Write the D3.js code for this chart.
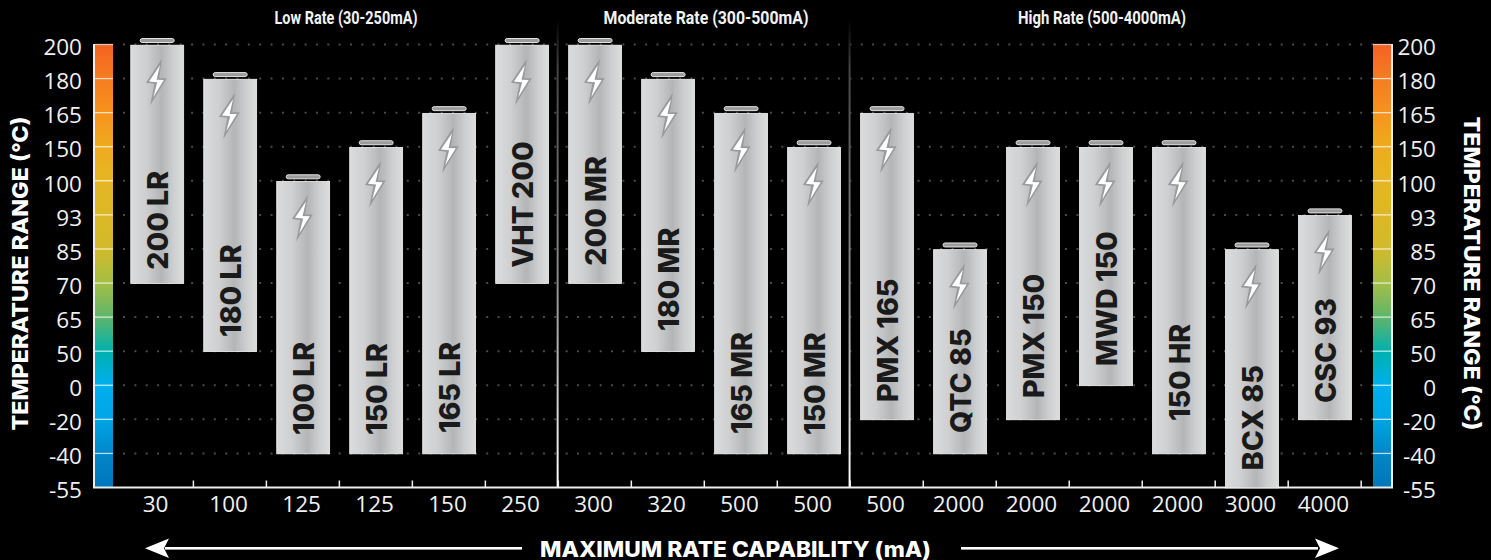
<!DOCTYPE html>
<html><head><meta charset="utf-8">
<script src="https://cdnjs.cloudflare.com/ajax/libs/d3/7.8.5/d3.min.js"></script>
<style>html,body{margin:0;padding:0;background:#000;overflow:hidden}svg{display:block}</style>
</head><body><svg id="c" width="1491" height="560"></svg>
<script>
const temps = ["200","180","165","150","100","93","85","70","65","50","0","-20","-40","-55"];
const names = ["200 LR","180 LR","100 LR","150 LR","165 LR","VHT 200","200 MR","180 MR","165 MR","150 MR","PMX 165","QTC 85","PMX 150","MWD 150","150 HR","BCX 85","CSC 93"];
const rates = ["30","100","125","125","150","250","300","320","500","500","500","2000","2000","2000","2000","3000","4000"];
const highs = ["200","180","100","150","165","200","200","180","165","150","165","85","150","150","150","85","93"];
const lows  = ["70","50","-40","-40","-40","70","70","50","-40","-40","-20","-40","-20","0","-40","-55","-20"];
const labelGaps = [14,15,19,19,21,16,18,21,20,19,18,21,22,20,33,18,17];
const groups = ["Low Rate (30-250mA)","Moderate Rate (300-500mA)","High Rate (500-4000mA)"];
const groupCenters = [346,706,1102];
const groupWidths = [143,205,168];
const dividerIdx = [5,9];
const gradTemps = ["200","180","165","150","100","85","70","65","50","0","-20","-40","-55"];
const gradCols = ["#f46223","#f57d20","#f7921d","#efab20","#e5b623","#d2ba2a","#a3bf45","#5fb56c","#00b1ad","#00aeef","#00a5e4","#0087c9","#0075ba"];

const svg = d3.select("#c");
const L=94,R=1392,T=44.5,B=487.5,BARW=19;
const y = d3.scalePoint().domain(temps).range([T,B]);
const x = d3.scaleBand().domain(names).range([120.9,1361.3]).paddingInner(0.275).paddingOuter(0.135);
const step = x.step();
const bw = x.bandwidth();
const F = "'Open Sans'", H = "Inter", N = "Roboto";

const defs = svg.append("defs");
const cg = defs.append("linearGradient").attr("id","cg").attr("gradientUnits","userSpaceOnUse").attr("x1",0).attr("x2",0).attr("y1",T).attr("y2",B);
gradTemps.forEach((t,i)=>cg.append("stop").attr("offset",(y(t)-T)/(B-T)).attr("stop-color",gradCols[i]));
const bg = defs.append("linearGradient").attr("id","bg");
[[0,"#dadbdc"],[.28,"#cfd0d1"],[.58,"#b4b5b6"],[.8,"#cdcecf"],[1,"#dcdddd"]].forEach(s=>bg.append("stop").attr("offset",s[0]).attr("stop-color",s[1]));
const dg = defs.append("linearGradient").attr("id","dg").attr("x1",0).attr("x2",0).attr("y1",0).attr("y2",1);
[[0,"#000"],[.1,"#444"],[.55,"#8a8a8a"],[1,"#fff"]].forEach(s=>dg.append("stop").attr("offset",s[0]).attr("stop-color",s[1]));

// grid
svg.append("g").selectAll("line").data(temps.slice(0,-1)).join("line")
 .attr("x1",123).attr("x2",1374).attr("y1",d=>y(d)).attr("y2",d=>y(d))
 .attr("stroke","#4a4a4a").attr("stroke-width",2).attr("stroke-dasharray","2 9.35");

// colour bars
[L+1,R-BARW].forEach(x0=>{
  svg.append("rect").attr("x",x0).attr("y",T).attr("width",BARW-1).attr("height",B-T).attr("fill","url(#cg)");
  svg.append("g").selectAll("line").data(temps.slice(0,-1)).join("line")
   .attr("x1",x0).attr("x2",x0+BARW-1).attr("y1",d=>y(d)).attr("y2",d=>y(d))
   .attr("stroke","#fff").attr("stroke-opacity",.72).attr("stroke-width",1.3);
});

// dividers
svg.append("g").selectAll("rect").data(dividerIdx).join("rect")
 .attr("x",d=>x(names[d])+bw+(step-bw)/2-2).attr("y",20).attr("width",2).attr("height",B-20)
 .attr("fill","url(#dg)");

// axis lines
const ax = svg.append("g").attr("stroke","#eee").attr("fill","none");
ax.append("path").attr("d",d3.line()([[L,T-.5],[L,B],[R,B],[R,T-.5]])).attr("stroke-width",2);
svg.append("g").selectAll("line").data(names).join("line")
 .attr("x1",d=>x(d)+bw+(step-bw)/2-.3).attr("x2",d=>x(d)+bw+(step-bw)/2-.3)
 .attr("y1",B).attr("y2",B-7).attr("stroke","#eee").attr("stroke-width",1.5);

// axes text
function styleAxis(g,size){g.select(".domain").remove();g.selectAll("line").remove();
  g.selectAll("text").attr("font-family",F).attr("font-weight",400).attr("font-size",size).attr("fill","#f0f0f0");}
svg.append("g").attr("transform",`translate(${L},3)`).call(d3.axisLeft(y).tickSize(0).tickPadding(12)).call(styleAxis,22.5);
svg.append("g").attr("transform",`translate(${R},3)`).call(d3.axisRight(y).tickSize(0).tickPadding(44)).call(styleAxis,22.5)
  .selectAll("text").attr("text-anchor","end");
svg.append("g").attr("transform",`translate(-1.6,${B+6})`).call(d3.axisBottom(x).tickSize(0).tickPadding(3).tickFormat((d,i)=>rates[i])).call(styleAxis,22.5);

// batteries
const bolt = "M4.7,13.5 L-11.2,37.5 L-2.8,38.5 L-7,60 L9.6,33 L2,33 Z";
const boltIn = "M2.8,20 L-8.2,36.2 L0,37 L-3.9,52 L6.6,34.8 L-0.6,34.6 Z";
const g = svg.append("g").selectAll("g").data(names).join("g")
 .attr("transform",(d,i)=>`translate(${x(d)},${y(highs[i])+.7})`);
g.append("rect").attr("x",bw/2-17).attr("y",-6.7).attr("width",34).attr("height",4).attr("rx",2)
 .attr("fill","#9c9c9c").attr("stroke","#e2e2e2").attr("stroke-width",1);
g.append("rect").attr("width",bw).attr("height",(d,i)=>y(lows[i])-y(highs[i])-.3)
 .attr("fill","url(#bg)").attr("stroke","#f4f4f4").attr("stroke-width",.8);
g.append("path").attr("d",bolt).attr("transform",`translate(${bw/2},0)`).attr("fill","#999a9b");
g.append("path").attr("d",boltIn).attr("transform",`translate(${bw/2},0)`).attr("fill","#fff");
g.append("text").text(d=>d)
 .attr("transform",(d,i)=>`translate(${bw/2+10.6},${y(lows[i])-y(highs[i])-labelGaps[i]}) rotate(-90)`)
 .attr("font-family",H).attr("font-weight",800).attr("font-size",28.5).attr("fill","#1a1a1a");

// group titles
svg.append("g").selectAll("text").data(groups).join("text").text(d=>d)
 .attr("x",(d,i)=>groupCenters[i]).attr("y",24).attr("text-anchor","middle")
 .attr("textLength",(d,i)=>groupWidths[i]).attr("lengthAdjust","spacingAndGlyphs")
 .attr("font-family",N).attr("font-weight",700).attr("font-size",18).attr("fill","#f2f2f2");

// axis titles
const tt = (t,tr,len,size)=>svg.append("text").text(t).attr("transform",tr).attr("text-anchor","middle")
 .attr("textLength",len).attr("lengthAdjust","spacingAndGlyphs")
 .attr("font-family",H).attr("font-weight",800).attr("font-size",size).attr("fill","#fff");
tt("TEMPERATURE RANGE (°C)","translate(28,273.5) rotate(-90)",314,22);
tt("TEMPERATURE RANGE (°C)","translate(1463.5,273.5) rotate(90)",314,22);
tt("MAXIMUM RATE CAPABILITY (mA)","translate(735.5,556.5)",391,21);

// arrows
const arrowG = svg.append("g").attr("fill","#fff");
arrowG.append("rect").attr("x",165).attr("y",547).attr("width",357).attr("height",2.6);
arrowG.append("rect").attr("x",961).attr("y",547).attr("width",357).attr("height",2.6);
arrowG.append("path").attr("d","M145,548.3 L169,538.5 L164,548.3 L169,558 Z");
arrowG.append("path").attr("d","M1339,548.3 L1315,538.5 L1320,548.3 L1315,558 Z");
</script></body></html>
